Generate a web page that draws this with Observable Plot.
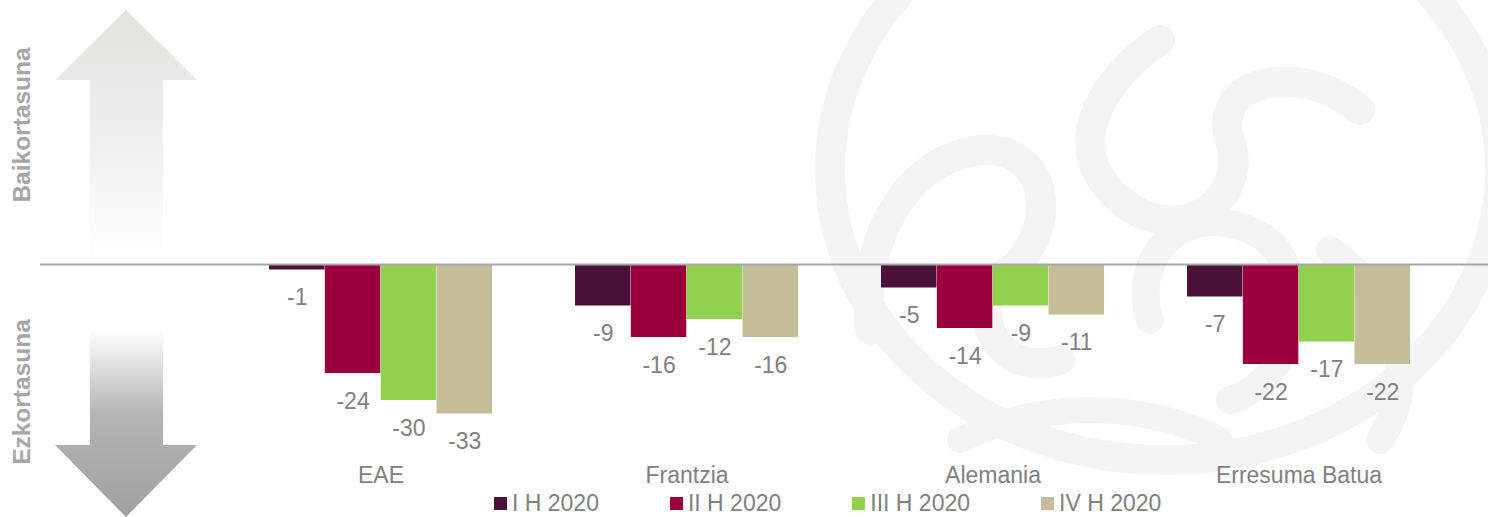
<!DOCTYPE html>
<html>
<head>
<meta charset="utf-8">
<script src="https://cdn.jsdelivr.net/npm/d3@7"></script>
<script src="https://cdn.jsdelivr.net/npm/@observablehq/plot@0.6"></script>
<style>
  html, body { margin: 0; padding: 0; background: #fff; }
  #wrap { position: relative; width: 1488px; height: 517px; overflow: hidden; font-family: "Liberation Sans", Arial, sans-serif; }
  #legend { position: absolute; left: 494px; top: 492px; display: flex; align-items: center; font-size: 23px; line-height: 23px; color: #808080; }
  #legend .item { display: flex; align-items: center; margin-right: 71px; }
  #legend .sw { width: 13px; height: 13px; margin-right: 5px; display: inline-block; }
</style>
</head>
<body>
<div id="wrap"></div>
<script>
// ---- data ----
const countries = ["EAE", "Frantzia", "Alemania", "Erresuma Batua"];
const seriesNames = ["I H 2020", "II H 2020", "III H 2020", "IV H 2020"];
const valuesI   = [-1, -9, -5, -7];
const valuesII  = [-24, -16, -14, -22];
const valuesIII = [-30, -12, -9, -17];
const valuesIV  = [-33, -16, -11, -22];
const seriesColors = ["#4b1139", "#9a003b", "#92d050", "#c4bd97"];
const axisLabelUp = "Baikortasuna";
const axisLabelDown = "Ezkortasuna";

const seriesValues = [valuesI, valuesII, valuesIII, valuesIV];
const rows = [];
seriesNames.forEach((s, i) => countries.forEach((c, j) => rows.push({country: c, series: s, si: i, value: seriesValues[i][j]})));

const rangeX = [228, 1452];
const padInner = 0.27;
const step = (rangeX[1] - rangeX[0]) / countries.length;
const bw = step * (1 - padInner) / seriesNames.length;

const marks = [];
seriesNames.forEach((s, i) => {
  const data = rows.filter(d => d.si === i);
  marks.push(Plot.barY(data, {
    x: "country", y1: 0, y2: "value", fill: seriesColors[i],
    insetLeft: i * bw, insetRight: (seriesNames.length - 1 - i) * bw
  }));
  marks.push(Plot.text(data, {
    x: "country", y: "value", text: d => String(d.value),
    dx: (i - 1.5) * bw, dy: 28, fill: "#808080", fontSize: 23
  }));
});
marks.push(Plot.ruleY([0], {stroke: "#a6a6a6", strokeWidth: 2, dy: -1}));
marks.push(Plot.text(countries, {x: d => d, text: d => d, frameAnchor: "bottom", dy: -35, fill: "#808080", fontSize: 23}));

const svg = Plot.plot({
  width: 1488,
  height: 517,
  marginLeft: 40, marginRight: 0, marginTop: 0, marginBottom: 0,
  style: {background: "transparent", fontFamily: "'Liberation Sans', Arial, sans-serif"},
  x: {domain: countries, range: rangeX, paddingInner: padInner, paddingOuter: padInner / 2, axis: null},
  y: {domain: [-33, 0], range: [265 + 33 * 4.5, 265], axis: null},
  marks
});

// ---- decorations (watermark, arrows, side labels) ----
const g = d3.select(svg).insert("g", ":first-child");
const defs = g.append("defs");
const gu = defs.append("linearGradient").attr("id", "gup").attr("x1", 0).attr("y1", 0).attr("x2", 0).attr("y2", 1);
gu.append("stop").attr("offset", "0%").attr("stop-color", "#e4e2dc");
gu.append("stop").attr("offset", "45%").attr("stop-color", "#eeedea");
gu.append("stop").attr("offset", "100%").attr("stop-color", "#ffffff");
const gd = defs.append("linearGradient").attr("id", "gdown").attr("x1", 0).attr("y1", 0).attr("x2", 0).attr("y2", 1);
gd.append("stop").attr("offset", "0%").attr("stop-color", "#ffffff");
gd.append("stop").attr("offset", "45%").attr("stop-color", "#b4b3b7");
gd.append("stop").attr("offset", "100%").attr("stop-color", "#a09fa3");

// faint watermark
const wm = g.append("g").attr("fill", "none").attr("stroke", "#f4f4f5").attr("stroke-linecap", "round");
wm.append("ellipse").attr("cx", 1165).attr("cy", 170).attr("rx", 335).attr("ry", 290).attr("stroke-width", 30);
wm.append("path").attr("d", "M870,330 C860,250 900,160 980,150 C1050,145 1060,230 1010,270 C960,310 1000,380 1060,360").attr("stroke-width", 30);
wm.append("path").attr("d", "M1160,40 C1100,80 1060,150 1120,200 C1180,250 1250,200 1230,140 C1210,80 1300,60 1360,110").attr("stroke-width", 30);
wm.append("path").attr("d", "M1150,320 C1130,260 1180,200 1250,230 C1320,260 1300,380 1230,400").attr("stroke-width", 28);
wm.append("path").attr("d", "M1330,250 C1400,300 1420,380 1380,440").attr("stroke-width", 28);
wm.append("path").attr("d", "M960,440 C1040,400 1140,400 1220,440").attr("stroke-width", 26);

g.append("path").attr("d", "M126,10 L197,80 L163,80 L163,262 L90,262 L90,80 L55,80 Z").attr("fill", "url(#gup)");
g.append("path").attr("d", "M90,330 L163,330 L163,445 L197,445 L126,517 L55,445 L90,445 Z").attr("fill", "url(#gdown)");

g.append("text").attr("transform", "translate(30,125) rotate(-90)").attr("text-anchor", "middle")
  .attr("font-size", 24.5).attr("font-weight", "bold").attr("fill", "#a6a6a6").attr("font-family", "'Liberation Sans', Arial, sans-serif").text(axisLabelUp);
g.append("text").attr("transform", "translate(30,392) rotate(-90)").attr("text-anchor", "middle")
  .attr("font-size", 24.5).attr("font-weight", "bold").attr("fill", "#a6a6a6").attr("font-family", "'Liberation Sans', Arial, sans-serif").text(axisLabelDown);

const wrap = document.getElementById("wrap");
wrap.appendChild(svg);

// legend
const legend = document.createElement("div");
legend.id = "legend";
seriesNames.forEach((s, i) => {
  const it = document.createElement("div");
  it.className = "item";
  const sw = document.createElement("span");
  sw.className = "sw";
  sw.style.background = seriesColors[i];
  it.appendChild(sw);
  const t = document.createElement("span");
  t.textContent = s;
  it.appendChild(t);
  legend.appendChild(it);
});
wrap.appendChild(legend);
</script>
</body>
</html>
